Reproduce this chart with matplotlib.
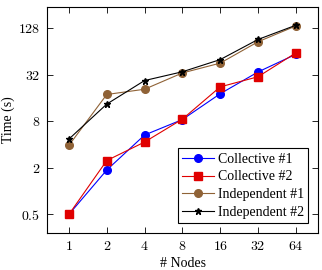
import matplotlib
matplotlib.use("Agg")
import matplotlib.pyplot as plt
from matplotlib.ticker import FixedLocator, FixedFormatter, NullLocator

plt.rcParams['font.family'] = ['Liberation Serif', 'DejaVu Serif']
plt.rcParams['mathtext.fontset'] = 'cm'

# --- data ---
nodes = [1, 2, 4, 8, 16, 32, 64]
collective_1 = [0.5, 1.87, 5.3, 8.4, 18.1, 34.6, 58.5]
collective_2 = [0.5, 2.48, 4.3, 8.5, 22.2, 30.0, 61.0]
independent_1 = [3.9, 17.7, 20.7, 33.6, 45.0, 85.0, 136.0]
independent_2 = [4.7, 13.3, 26.8, 34.8, 50.0, 91.0, 139.0]

y_ticks = [0.5, 2, 8, 32, 128]
y_tick_labels = ["$0.5$", "$2$", "$8$", "$32$", "$128$"]
x_tick_labels = ["$%d$" % n for n in nodes]

fig = plt.figure(figsize=(3.22, 2.70), dpi=100)
ax = fig.add_axes([0.146, 0.137, 0.842, 0.837])

ax.plot(nodes, collective_1, color="blue", marker="o", ms=5.5, lw=0.8, label="Collective #1")
ax.plot(nodes, collective_2, color="#e00000", marker="s", ms=5.5, lw=0.8, label="Collective #2")
ax.plot(nodes, independent_1, color="#8f6236", marker="o", ms=5.5, lw=0.8, label="Independent #1")
ax.plot(nodes, independent_2, color="black", marker="*", ms=4.5, lw=0.8, label="Independent #2")

ax.set_xscale("log", base=2)
ax.set_yscale("log", base=2)
ax.set_xlim(2 ** -0.58, 2 ** 6.59)
ax.set_ylim(0.287, 239)

ax.xaxis.set_major_locator(FixedLocator(nodes))
ax.xaxis.set_major_formatter(FixedFormatter(x_tick_labels))
ax.xaxis.set_minor_locator(NullLocator())
ax.yaxis.set_major_locator(FixedLocator(y_ticks))
ax.yaxis.set_major_formatter(FixedFormatter(y_tick_labels))
ax.yaxis.set_minor_locator(NullLocator())
ax.tick_params(direction="in", top=True, right=True, length=4, width=0.6, labelsize=10, pad=5)
for s in ax.spines.values():
    s.set_linewidth(0.8)

ax.set_xlabel("# Nodes", fontsize=10, labelpad=3)
ax.set_ylabel("Time (s)", fontsize=10, labelpad=2)

leg = ax.legend(loc="lower right", fontsize=10, frameon=True, fancybox=False,
                edgecolor="black", framealpha=1, handlelength=2.3,
                borderaxespad=0.7, labelspacing=0.35, borderpad=0.3, handletextpad=0.3)
leg.get_frame().set_linewidth(0.8)

fig.savefig("out.png", dpi=100)
